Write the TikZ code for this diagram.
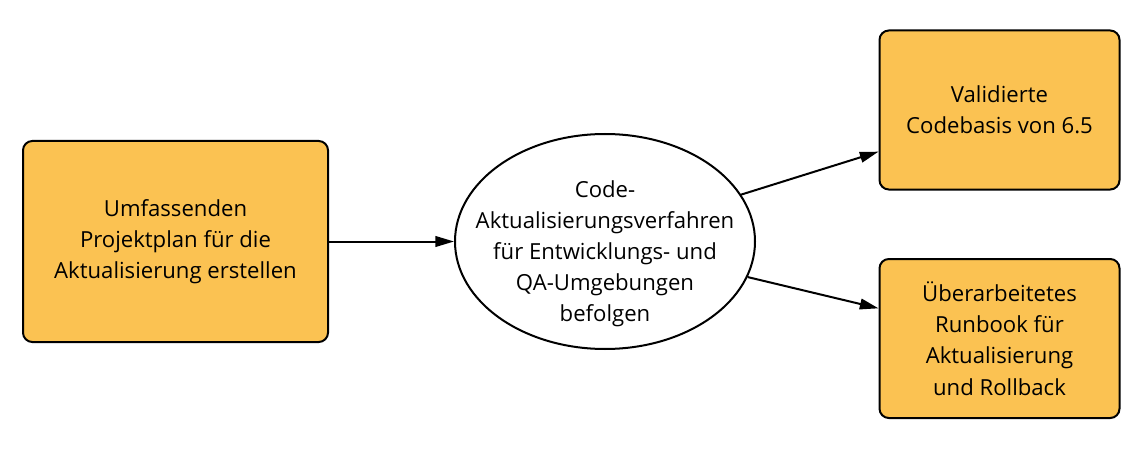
\documentclass[tikz,border=0pt]{standalone}
\usepackage{fontspec}
\setmainfont{Open Sans}
\usetikzlibrary{shapes.geometric,arrows.meta}
\definecolor{boxfill}{RGB}{251,194,82}
\begin{document}
\begin{tikzpicture}[x=0.75pt,y=-0.75pt,
        every node/.style={font=\fontsize{16.6}{23.4}\selectfont, align=center},
        taskbox/.style={draw, line width=1.5pt, fill=boxfill, rounded corners=7pt, inner sep=0pt},
        stepellipse/.style={draw, ellipse, line width=1.5pt, fill=white, inner xsep=-20pt, inner ysep=-10pt,
            minimum width=225pt, minimum height=161.25pt},
        flow/.style={line width=1.5pt, -{Triangle[length=14pt,width=8pt]}}]
        \useasboundingbox (0,0) rectangle (1147,467);

        % Nodes
        \node[taskbox, minimum width=228.75pt, minimum height=150.75pt] (plan) at (175.5,241.5)
            {Umfassenden\\Projektplan für die\\Aktualisierung erstellen};
        \node[stepellipse] (code) at (605,241.5)
            {\rule{0pt}{31pt}Code-\\Aktualisierungsverfahren\\für Entwicklungs- und\\QA-Umgebungen\\befolgen};
        \node[taskbox, minimum width=180pt, minimum height=119.25pt] (valid) at (999.5,110)
            {Validierte\\Codebasis von 6.5};
        \node[taskbox, minimum width=180pt, minimum height=119.25pt] (runbook) at (999.5,338.5)
            {Überarbeitetes\\Runbook für\\Aktualisierung\\und Rollback};

        % Edges
        \draw[flow] (plan.east) -- (code.west);
        \draw[flow] (code.19) -- (valid.199);
        \draw[flow] (code.346) -- (runbook.166);
    \end{tikzpicture}
\end{document}
